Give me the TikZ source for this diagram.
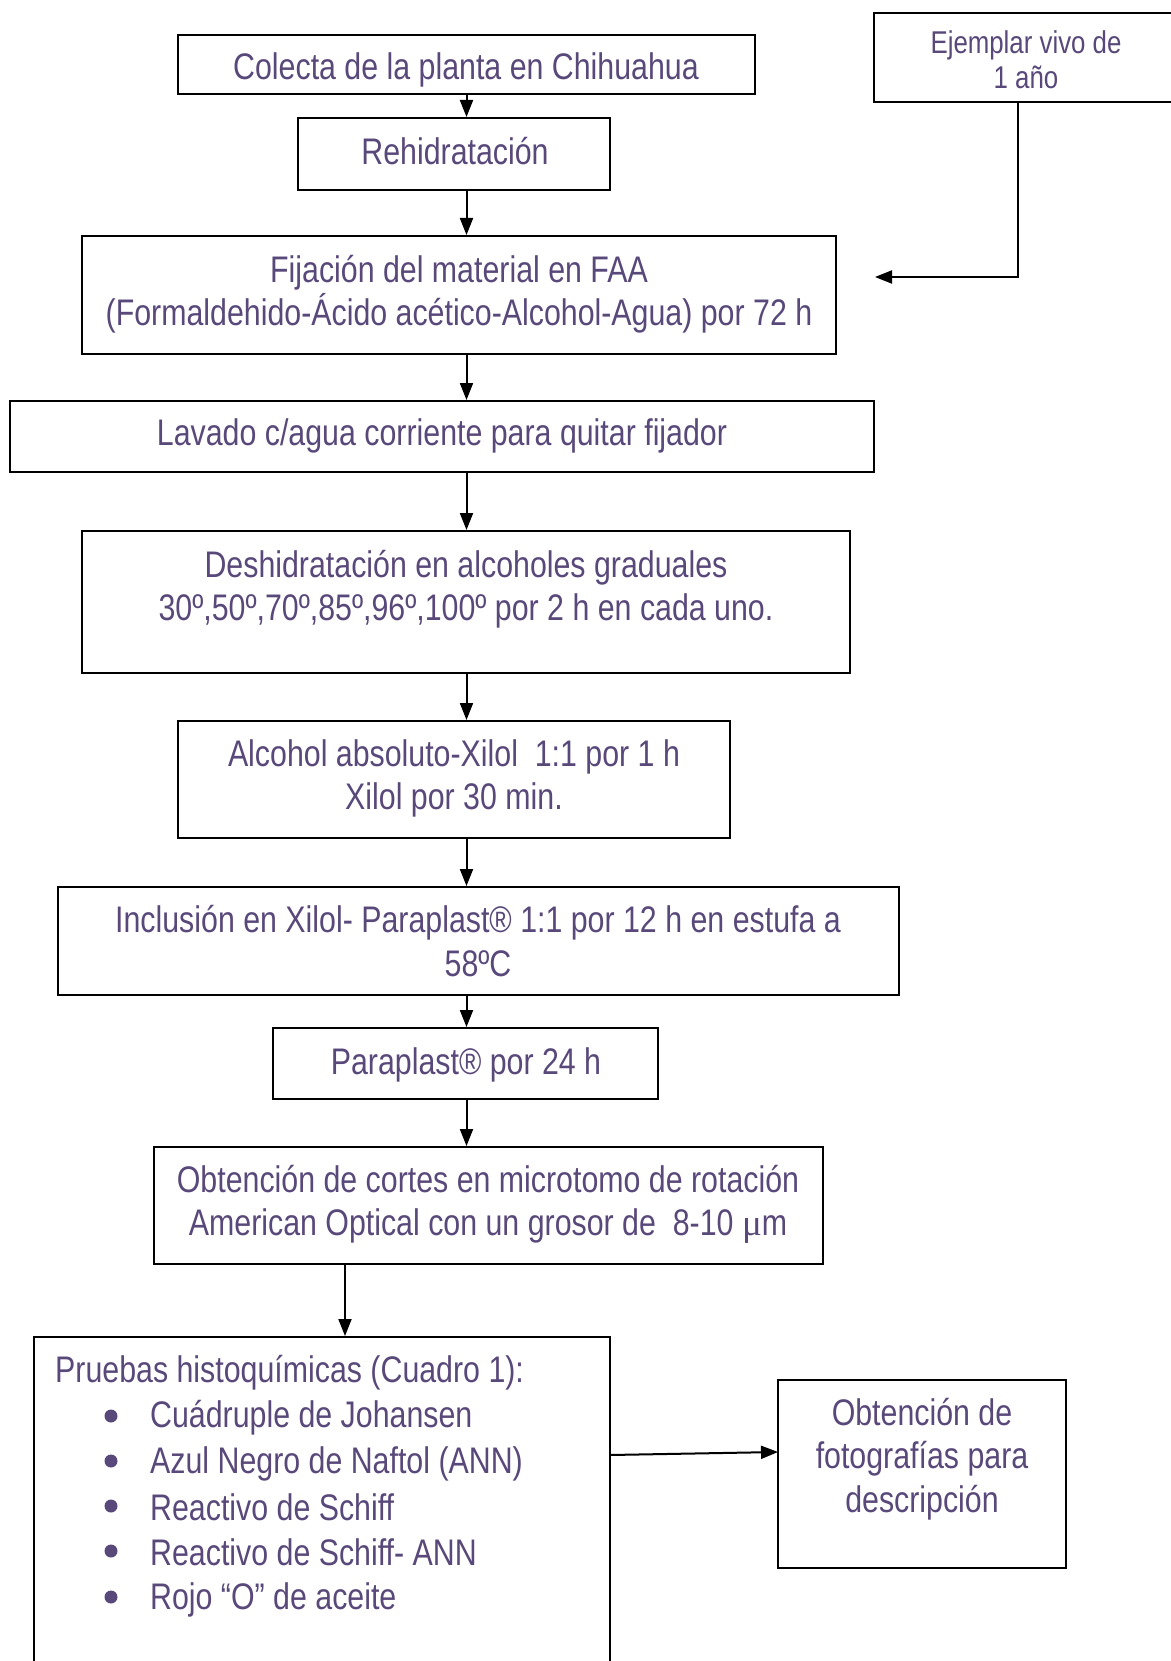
\documentclass[tikz,border=0pt]{standalone}
\usepackage{fontspec}
\setmainfont[FakeStretch=0.82]{Liberation Sans}
\newfontfamily\mufont{Liberation Serif}
\usetikzlibrary{arrows.meta}
\definecolor{txt}{RGB}{89,72,122}
\tikzset{
  box/.style={draw=black, line width=2pt, inner sep=0pt},
  lbl/.style={text=txt, align=center, inner sep=0pt, font=\fontsize{37}{43.5}\selectfont},
  lblsmall/.style={text=txt, align=center, inner sep=0pt, font=\fontsize{31.5}{35}\selectfont},
  arr/.style={draw=black, line width=2pt, -{Triangle[length=17pt,width=13pt]}},
  bul/.style={circle, fill=txt, inner sep=0pt, minimum size=13pt}
}
\begin{document}
\begin{tikzpicture}[x=1pt,y=-1pt]
\useasboundingbox (0,0) rectangle (1170,1661);
% boxes
\node[box, minimum width=577, minimum height=59] (b1) at (466.5,64.5) {};
\node[box, minimum width=310, minimum height=89] (bej) at (1029,57.5) {};
\node[box, minimum width=312, minimum height=72] (b2) at (454,154) {};
\node[box, minimum width=754, minimum height=118] (b3) at (459,295) {};
\node[box, minimum width=864, minimum height=71] (b4) at (442,436.5) {};
\node[box, minimum width=768, minimum height=142] (b5) at (466,602) {};
\node[box, minimum width=552, minimum height=117] (b6) at (454,779.5) {};
\node[box, minimum width=841, minimum height=108] (b7) at (478.5,941) {};
\node[box, minimum width=385, minimum height=71] (b8) at (465.5,1063.5) {};
\node[box, minimum width=669, minimum height=117] (b9) at (488.5,1205.5) {};
\node[box, minimum width=576, minimum height=360] (b10) at (322,1517) {};
\node[box, minimum width=288, minimum height=188] (b11) at (922,1474) {};
% texts
\node[lbl] (t1) at (466,70) {Colecta de la planta en Chihuahua};
\node[lblsmall] (tej) at (1026,59.5) {Ejemplar vivo de\\1 año};
\node[lbl] (t2) at (455,151) {Rehidratación};
\node[lbl] (t3) at (459,294) {Fijación del material en FAA\\(Formaldehido-Ácido acético-Alcohol-Agua) por 72 h};
\node[lbl] (t4) at (442,436) {Lavado c/agua corriente para quitar fijador};
\node[lbl] (t5) at (466,589) {Deshidratación en alcoholes graduales\\30º,50º,70º,85º,96º,100º por 2 h en cada uno.};
\node[lbl] (t6) at (454,778.5) {Alcohol absoluto-Xilol \ 1:1 por 1 h\\Xilol por 30 min.};
\node[lbl] (t7) at (478,941) {Inclusión en Xilol- Paraplast® 1:1 por 12 h en estufa a\\58ºC};
\node[lbl] (t8) at (466,1064.5) {Paraplast® por 24 h};
\node[lbl] (t9) at (488,1204.5) {Obtención de cortes en microtomo de rotación\\American Optical con un grosor de \ 8-10 {\mufont μ}m};
\node[lbl] (t11) at (922,1459) {Obtención de\\fotografías para\\descripción};
\node[lbl, anchor=west] (t10) at (55,1373) {Pruebas histoquímicas (Cuadro 1):};
\node[bul] (d1) at (111,1416) {};
\node[bul] (d2) at (111,1461) {};
\node[bul] (d3) at (111,1506) {};
\node[bul] (d4) at (111,1551) {};
\node[bul] (d5) at (111,1597) {};
\node[lbl, anchor=west] (i1) at (150,1418) {Cuádruple de Johansen};
\node[lbl, anchor=west] (i2) at (150,1464) {Azul Negro de Naftol (ANN)};
\node[lbl, anchor=west] (i3) at (150,1507) {Reactivo de Schiff};
\node[lbl, anchor=west] (i4) at (150,1552) {Reactivo de Schiff- ANN};
\node[lbl, anchor=west] (i5) at (150,1600) {Rojo “O” de aceite};
% connectors
\draw[arr] (b1.south) -- (b1.south |- b2.north);
\draw[arr] (b1.south |- b2.south) -- (b1.south |- b3.north);
\draw[arr] (b1.south |- b3.south) -- (b1.south |- b4.north);
\draw[arr] (b1.south |- b4.south) -- (b1.south |- b5.north);
\draw[arr] (b1.south |- b5.south) -- (b1.south |- b6.north);
\draw[arr] (b1.south |- b6.south) -- (b1.south |- b7.north);
\draw[arr] (b1.south |- b7.south) -- (b1.south |- b8.north);
\draw[arr] (b1.south |- b8.south) -- (b1.south |- b9.north);
\coordinate (c9) at (345,1264);
\draw[arr] (c9 |- b9.south) -- (c9 |- b10.north);
\coordinate (c10) at (610,1455);
\coordinate (c11) at (778,1452);
\draw[arr] (c10) -- (c11);
\coordinate (ejturn) at (1018,277);
\coordinate (ejtip) at (875,277);
\draw[arr] (ejturn |- bej.south) -- (ejturn) -- (ejtip);
\end{tikzpicture}
\end{document}
